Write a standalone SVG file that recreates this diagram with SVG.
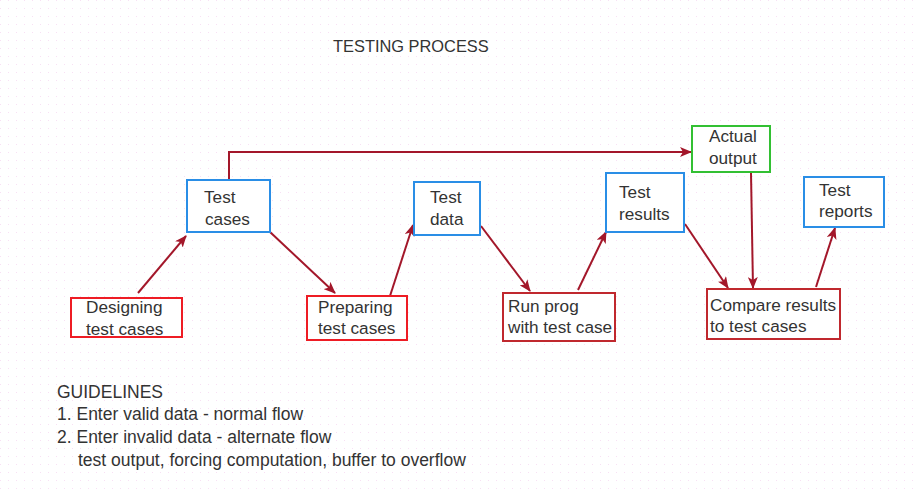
<svg xmlns="http://www.w3.org/2000/svg" width="915" height="494" viewBox="0 0 915 494">
<defs>
<marker id="ah" viewBox="0 0 12 10" refX="11" refY="5" markerWidth="12" markerHeight="10" markerUnits="userSpaceOnUse" orient="auto">
<path d="M0,0 L12,5 L0,10 L3,5 Z" fill="#a3172a"/>
</marker>
<pattern id="dots" width="8" height="8" patternUnits="userSpaceOnUse">
<rect x="0" y="0" width="1" height="1" fill="#f8e0f4"/>
</pattern>
</defs>
<style>
text{font-family:"Liberation Sans",Arial,sans-serif;font-size:17.2px;fill:#333}
.g text{font-size:17.5px}
.box{fill:#fff;stroke-width:2}
.red{stroke:#ee1c24}
.dred{stroke:#c0282e}
.blue{stroke:#2a8ee6}
.green{stroke:#33c033}
.c{fill:none;stroke:#a3172a;stroke-width:2;marker-end:url(#ah)}
</style>
<rect width="915" height="494" fill="#fff"/>
<rect width="915" height="494" fill="url(#dots)"/>
<text x="333" y="52" style="font-size:16.4px">TESTING PROCESS</text>
<g id="connectors">
<path class="c" d="M138,293 L186,236"/>
<path class="c" d="M270,232 L335,293"/>
<path class="c" d="M390,296 L413,225"/>
<path class="c" d="M481,226 L530,291"/>
<path class="c" d="M578,290 L606,232"/>
<path class="c" d="M229,180 L229,152 L691,152"/>
<path class="c" d="M751,173 L753,288"/>
<path class="c" d="M685,224 L728,288"/>
<path class="c" d="M816,287 L835,228"/>
</g>
<g id="designing">
<rect class="box red" x="71" y="298" width="111" height="39"/>
<text x="86" y="313">Designing</text>
<text x="86" y="335">test cases</text>
</g>
<g id="testcases">
<rect class="box blue" x="187" y="180" width="83" height="52"/>
<text x="204" y="203">Test</text>
<text x="205" y="225">cases</text>
</g>
<g id="preparing">
<rect class="box red" x="307" y="296" width="100" height="44"/>
<text x="318" y="313">Preparing</text>
<text x="318" y="334">test cases</text>
</g>
<g id="testdata">
<rect class="box blue" x="414" y="182" width="66" height="53"/>
<text x="430" y="203">Test</text>
<text x="430" y="225">data</text>
</g>
<g id="runprog">
<rect class="box dred" x="503" y="293" width="112" height="48"/>
<text x="508" y="312">Run prog</text>
<text x="508" y="333">with test case</text>
</g>
<g id="testresults">
<rect class="box blue" x="606" y="173" width="78" height="59"/>
<text x="619" y="198">Test</text>
<text x="619" y="220">results</text>
</g>
<g id="actualoutput">
<rect class="box green" x="692" y="126" width="78" height="46"/>
<text x="709" y="142">Actual</text>
<text x="709" y="164">output</text>
</g>
<g id="compare">
<rect class="box dred" x="707" y="289" width="133" height="50"/>
<text x="710" y="311">Compare results</text>
<text x="710" y="332">to test cases</text>
</g>
<g id="testreports">
<rect class="box blue" x="804" y="177" width="80" height="50"/>
<text x="819" y="196">Test</text>
<text x="819" y="217">reports</text>
</g>
<g id="guidelines" class="g">
<text x="57" y="398">GUIDELINES</text>
<text x="57" y="420">1. Enter valid data - normal flow</text>
<text x="57" y="443">2. Enter invalid data - alternate flow</text>
<text x="78" y="466">test output, forcing computation, buffer to overflow</text>
</g>
</svg>
